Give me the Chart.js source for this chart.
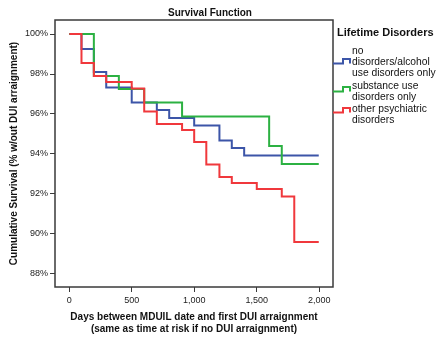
<!DOCTYPE html>
<html>
<head>
<meta charset="utf-8">
<script src="https://cdn.jsdelivr.net/npm/chart.js@4"></script>
<style>
    body { margin: 0; background: #fff; }
    #wrap { position: relative; width: 436px; height: 339px; font-family: "Liberation Sans", Arial, sans-serif; }
    #survival-chart { position: absolute; left: 0; top: 0; }
    .lg-title { position: absolute; left: 337px; top: 26px; font-size: 11px; font-weight: bold; color: #111; white-space: nowrap; }
    .lg-text { position: absolute; left: 352px; font-size: 10.3px; line-height: 11px; color: #111; white-space: nowrap; }
    .lg-icon { position: absolute; left: 333px; }
</style>
</head>
<body>
<div id="wrap">
    <canvas id="survival-chart" width="436" height="339"></canvas>
    <div class="lg-title">Lifetime Disorders</div>
    <svg class="lg-icon" style="top:57px" width="19" height="8"><path d="M0,6.5 H10 V2 H17 V6.5" fill="none" stroke="#3c55a8" stroke-width="2"/></svg>
    <div class="lg-text" style="top:45px">no<br>disorders/alcohol<br>use disorders only</div>
    <svg class="lg-icon" style="top:85px" width="19" height="8"><path d="M0,6.5 H10 V2 H17 V6.5" fill="none" stroke="#2cb142" stroke-width="2"/></svg>
    <div class="lg-text" style="top:80px">substance use<br>disorders only</div>
    <svg class="lg-icon" style="top:106px" width="19" height="8"><path d="M0,6.5 H10 V2 H17 V6.5" fill="none" stroke="#f0383c" stroke-width="2"/></svg>
    <div class="lg-text" style="top:103px">other psychiatric<br>disorders</div>
</div>
<script>
// days at which each curve steps down, and the survival % after the step
const blueDays = [0, 97, 196, 295, 499, 700, 799, 999, 1201, 1300, 1399, 1996];
const blueSurv = [100, 99.25, 98.1, 97.33, 96.58, 96.2, 95.8, 95.43, 94.68, 94.3, 93.93, 93.93];

const greenDays = [0, 196, 396, 599, 902, 1599, 1700, 1996];
const greenSurv = [100, 97.9, 97.25, 96.58, 95.88, 94.4, 93.5, 93.5];

const redDays = [0, 97, 196, 295, 499, 599, 700, 902, 999, 1096, 1201, 1300, 1500, 1700, 1800, 1996];
const redSurv = [100, 98.55, 97.9, 97.6, 97.27, 96.13, 95.5, 95.2, 94.6, 93.47, 92.85, 92.55, 92.25, 91.88, 89.6, 89.6];

const xTicks = [0, 500, 1000, 1500, 2000];
const yTicks = [88, 90, 92, 94, 96, 98, 100];

function toPoints(days, surv){
    return days.map((d, i) => ({ x: d, y: surv[i] }));
}

const frameAndTitle = {
    id: "frameAndTitle",
    afterDatasetsDraw(chart){
        const { ctx, chartArea } = chart;
        ctx.save();
        ctx.strokeStyle = "#3a3a3a";
        ctx.lineWidth = 1.5;
        ctx.strokeRect(chartArea.left, chartArea.top, chartArea.right - chartArea.left, chartArea.bottom - chartArea.top);
        ctx.fillStyle = "#111";
        ctx.font = "bold 10px 'Liberation Sans', Arial, sans-serif";
        ctx.textAlign = "center";
        ctx.textBaseline = "middle";
        ctx.fillText("Survival Function", 210, 13);
        ctx.restore();
    }
};

const lineStyle = { borderWidth: 2, pointRadius: 0, stepped: true, fill: false };

new Chart(document.getElementById("survival-chart"), {
    type: "line",
    data: {
        datasets: [
            { label: "no disorders/alcohol use disorders only", data: toPoints(blueDays, blueSurv), borderColor: "#3c55a8", order: 2, ...lineStyle },
            { label: "substance use disorders only", data: toPoints(greenDays, greenSurv), borderColor: "#2cb142", order: 1, ...lineStyle },
            { label: "other psychiatric disorders", data: toPoints(redDays, redSurv), borderColor: "#f0383c", order: 0, ...lineStyle }
        ]
    },
    options: {
        responsive: false,
        animation: false,
        layout: { padding: { top: 20, right: 103, bottom: 0, left: 0 } },
        plugins: {
            legend: { display: false },
            tooltip: { enabled: false }
        },
        scales: {
            x: {
                type: "linear",
                min: -115,
                max: 2110,
                afterFit: s => { s.height = 52; },
                afterBuildTicks: s => { s.ticks = xTicks.map(v => ({ value: v })); },
                border: { display: false },
                grid: { drawOnChartArea: false, drawTicks: true, tickLength: 5, color: "#3a3a3a" },
                ticks: {
                    padding: 3,
                    color: "#222",
                    font: { family: "'Liberation Sans', Arial", size: 9 },
                    callback: v => v.toLocaleString("en-US")
                },
                title: {
                    display: true,
                    text: ["Days between MDUIL date and first DUI arraignment", "(same as time at risk if no DUI arraignment)"],
                    color: "#111",
                    font: { family: "'Liberation Sans', Arial", size: 10, weight: "bold" },
                    padding: { top: 0, bottom: 4 }
                }
            },
            y: {
                min: 87.35,
                max: 100.7,
                afterFit: s => { s.width = 55; },
                afterBuildTicks: s => { s.ticks = yTicks.map(v => ({ value: v })); },
                border: { display: false },
                grid: { drawOnChartArea: false, drawTicks: true, tickLength: 5, color: "#3a3a3a" },
                ticks: {
                    padding: 2,
                    color: "#222",
                    font: { family: "'Liberation Sans', Arial", size: 9 },
                    callback: v => v + "%"
                },
                title: {
                    display: true,
                    text: "Cumulative Survival (% w/out DUI arraignment)",
                    color: "#111",
                    font: { family: "'Liberation Sans', Arial", size: 10, weight: "bold" },
                    padding: { top: 8, bottom: 0 }
                }
            }
        }
    },
    plugins: [frameAndTitle]
});
</script>
</body>
</html>
